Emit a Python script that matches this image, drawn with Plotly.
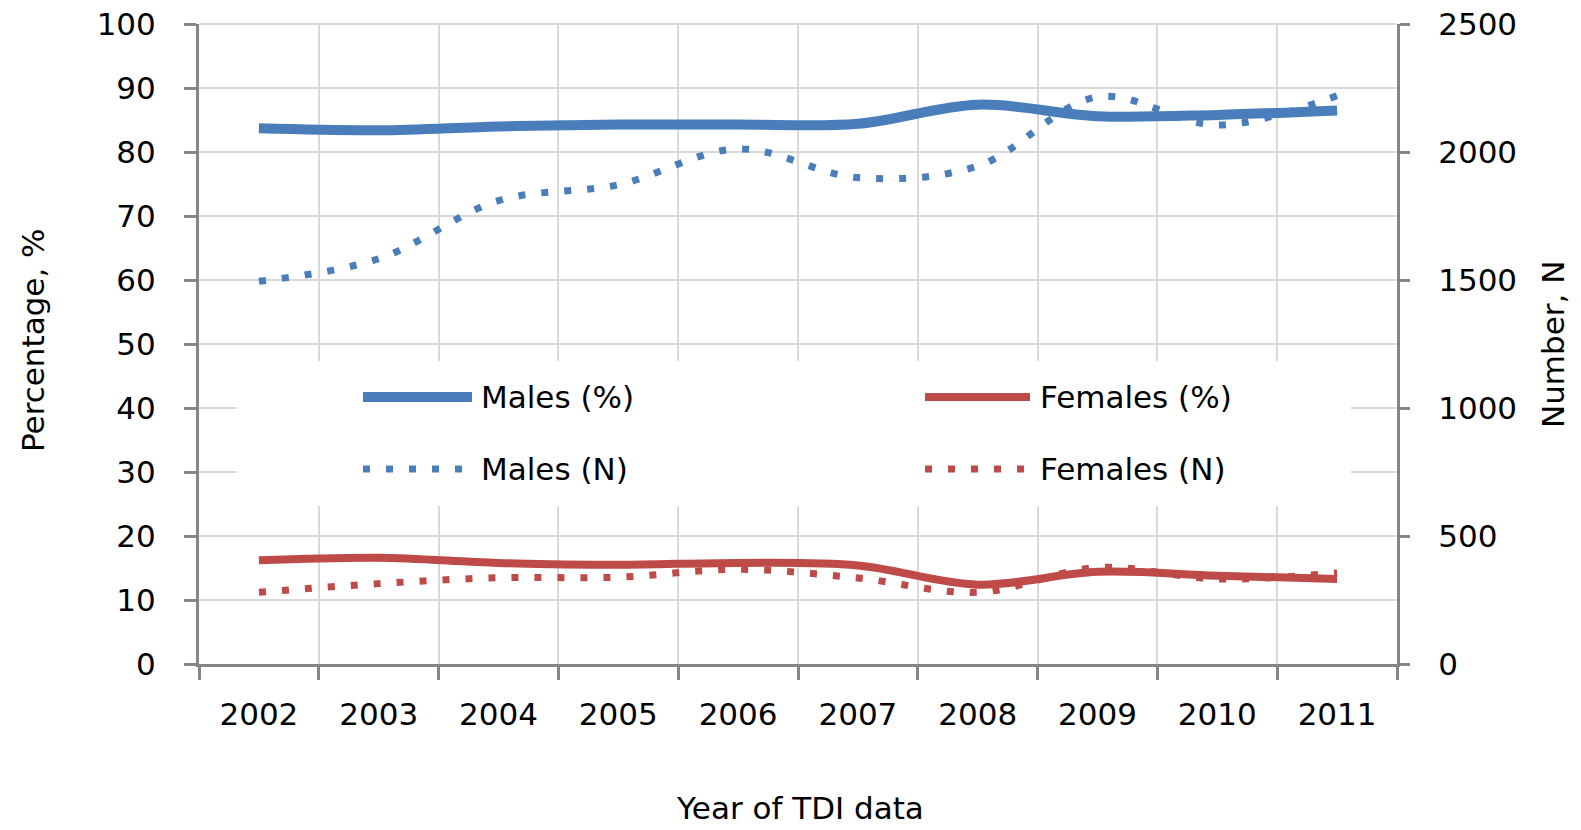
import plotly.graph_objects as go

years = ["2002", "2003", "2004", "2005", "2006", "2007", "2008", "2009", "2010", "2011"]
males_pct = [83.7, 83.4, 84.0, 84.3, 84.3, 84.4, 87.4, 85.6, 85.8, 86.5]
females_pct = [16.2, 16.6, 15.8, 15.5, 15.8, 15.4, 12.4, 14.4, 13.8, 13.3]
males_n = [1495, 1583, 1810, 1872, 2012, 1900, 1945, 2215, 2105, 2220]
females_n = [280, 314, 337, 339, 370, 336, 280, 377, 332, 356]

BLUE = "#4a7ebb"
RED = "#be4b48"
AXIS = "#868686"
GRID = "#d9d9d9"
FONT = "DejaVu Sans"
FS = 31
DOTS = "7px,16px"

FW, FH = 1581, 830

fig = go.Figure()
fig.add_trace(go.Scatter(x=years, y=males_pct, name="Males (%)", mode="lines",
                         line=dict(color=BLUE, width=10, shape="spline"), yaxis="y"))
fig.add_trace(go.Scatter(x=years, y=females_pct, name="Females (%)", mode="lines",
                         line=dict(color=RED, width=8, shape="spline"), yaxis="y"))
fig.add_trace(go.Scatter(x=years, y=males_n, name="Males (N)", mode="lines",
                         line=dict(color=BLUE, width=7, shape="spline", dash=DOTS), yaxis="y2"))
fig.add_trace(go.Scatter(x=years, y=females_n, name="Females (N)", mode="lines",
                         line=dict(color=RED, width=7, shape="spline", dash=DOTS), yaxis="y2"))

# plot area geometry (px)
L, R, T, B = 199, 1397, 24, 664
W, H = R - L, B - T


def px_x(p):
    return (p - L) / W


def px_y(p):
    return (B - p) / H


shapes = [
    # top gridline (plotly omits the grid line at the range edge)
    dict(type="line", xref="paper", yref="paper", x0=0, x1=1, y0=1, y1=1,
         line=dict(color=GRID, width=2), layer="below"),
    dict(type="rect", xref="paper", yref="paper", x0=px_x(237), x1=px_x(1351),
         y0=px_y(506), y1=px_y(361), fillcolor="white", line=dict(width=0), layer="above"),
]
legend_items = [
    ("Males (%)", 363, 472, 397, BLUE, 10, "solid", 479),
    ("Females (%)", 925, 1030, 397, RED, 8, "solid", 1038),
    ("Males (N)", 363, 468, 469, BLUE, 7, DOTS, 479),
    ("Females (N)", 925, 1030, 469, RED, 7, DOTS, 1038),
]
annotations = []
for name, x0, x1, yy, col, w, dash, tx in legend_items:
    shapes.append(dict(type="line", xref="paper", yref="paper", x0=px_x(x0), x1=px_x(x1),
                       y0=px_y(yy), y1=px_y(yy), line=dict(color=col, width=w, dash=dash),
                       layer="above"))
    annotations.append(dict(text=name, xref="paper", yref="paper", x=px_x(tx), y=px_y(yy),
                            xanchor="left", yanchor="middle", showarrow=False,
                            font=dict(family=FONT, size=FS, color="black")))

annotations += [
    dict(text="Percentage, %", xref="paper", yref="paper", x=px_x(33), y=px_y(340),
         textangle=-90, showarrow=False, xanchor="center", yanchor="middle",
         font=dict(family=FONT, size=FS, color="black")),
    dict(text="Number, N", xref="paper", yref="paper", x=px_x(1553), y=px_y(345),
         textangle=-90, showarrow=False, xanchor="center", yanchor="middle",
         font=dict(family=FONT, size=FS, color="black")),
    dict(text="Year of TDI data", xref="paper", yref="paper", x=px_x(800), y=px_y(808),
         showarrow=False, xanchor="center", yanchor="middle",
         font=dict(family=FONT, size=FS, color="black")),
]

fig.update_layout(
    width=FW, height=FH,
    margin=dict(l=L, r=FW - R, t=T, b=FH - B, pad=0, autoexpand=False),
    paper_bgcolor="white", plot_bgcolor="white",
    showlegend=False,
    font=dict(family=FONT, size=FS, color="black"),
    xaxis=dict(type="category", range=[-0.5, 9.5], tickson="boundaries", automargin=False,
               showgrid=True, gridcolor=GRID, gridwidth=2,
               showline=True, linecolor=AXIS, linewidth=3,
               ticks="outside", ticklen=13, tickwidth=3, tickcolor=AXIS,
               ticklabelstandoff=21, tickfont=dict(family=FONT, size=FS, color="black")),
    yaxis=dict(range=[0, 100], dtick=10, showgrid=True, gridcolor=GRID, gridwidth=2,
               automargin=False, ticklabeloverflow="allow",
               showline=True, linecolor=AXIS, linewidth=3, zeroline=False,
               ticks="outside", ticklen=12, tickwidth=3, tickcolor=AXIS,
               ticklabelstandoff=22, tickfont=dict(family=FONT, size=FS, color="black")),
    yaxis2=dict(range=[0, 2500], dtick=500, overlaying="y", side="right", showgrid=False,
                automargin=False, ticklabeloverflow="allow",
                showline=True, linecolor=AXIS, linewidth=3, zeroline=False,
                ticks="outside", ticklen=10, tickwidth=3, tickcolor=AXIS,
                ticklabelstandoff=22, tickfont=dict(family=FONT, size=FS, color="black")),
    shapes=shapes,
    annotations=annotations,
)

fig.write_html("out.html", config={"displayModeBar": False},
               post_script="document.body.style.margin='0';document.body.style.overflow='hidden';")
